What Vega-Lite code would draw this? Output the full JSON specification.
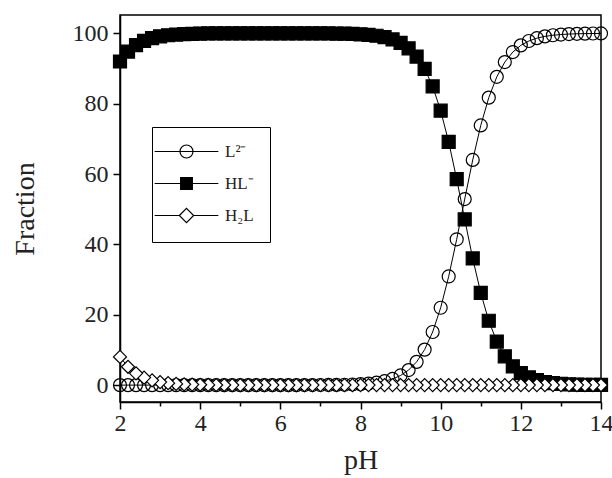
{
  "$schema": "https://vega.github.io/schema/vega-lite/v6.json",
  "width": 481,
  "height": 387,
  "autosize": "none",
  "padding": {"left": 120, "top": 15, "right": 11, "bottom": 76},
  "background": "white",
  "config": {"view": {"stroke": "black", "strokeWidth": 1.5}, "font": "Liberation Serif"},
  "data": {"values": [
    {"pH":14,"s":"L²⁻","v":99.96},{"pH":13.8,"s":"L²⁻","v":99.94},{"pH":13.6,"s":"L²⁻","v":99.91},{"pH":13.4,"s":"L²⁻","v":99.86},{"pH":13.2,"s":"L²⁻","v":99.78},{"pH":13,"s":"L²⁻","v":99.65},{"pH":12.8,"s":"L²⁻","v":99.44},{"pH":12.6,"s":"L²⁻","v":99.12},{"pH":12.4,"s":"L²⁻","v":98.61},{"pH":12.2,"s":"L²⁻","v":97.81},{"pH":12,"s":"L²⁻","v":96.57},{"pH":11.8,"s":"L²⁻","v":94.67},{"pH":11.6,"s":"L²⁻","v":91.82},{"pH":11.4,"s":"L²⁻","v":87.62},{"pH":11.2,"s":"L²⁻","v":81.71},{"pH":11,"s":"L²⁻","v":73.81},{"pH":10.8,"s":"L²⁻","v":64.0},{"pH":10.6,"s":"L²⁻","v":52.88},{"pH":10.4,"s":"L²⁻","v":41.45},{"pH":10.2,"s":"L²⁻","v":30.88},{"pH":10,"s":"L²⁻","v":21.99},{"pH":9.8,"s":"L²⁻","v":15.1},{"pH":9.6,"s":"L²⁻","v":10.09},{"pH":9.4,"s":"L²⁻","v":6.61},{"pH":9.2,"s":"L²⁻","v":4.28},{"pH":9,"s":"L²⁻","v":2.74},{"pH":8.8,"s":"L²⁻","v":1.75},{"pH":8.6,"s":"L²⁻","v":1.11},{"pH":8.4,"s":"L²⁻","v":0.7},{"pH":8.2,"s":"L²⁻","v":0.44},{"pH":8,"s":"L²⁻","v":0.28},{"pH":7.8,"s":"L²⁻","v":0.18},{"pH":7.6,"s":"L²⁻","v":0.11},{"pH":7.4,"s":"L²⁻","v":0.07},{"pH":7.2,"s":"L²⁻","v":0.04},{"pH":7,"s":"L²⁻","v":0.03},{"pH":6.8,"s":"L²⁻","v":0.02},{"pH":6.6,"s":"L²⁻","v":0.01},{"pH":6.4,"s":"L²⁻","v":0},{"pH":6.2,"s":"L²⁻","v":0},{"pH":6,"s":"L²⁻","v":0},{"pH":5.8,"s":"L²⁻","v":0},{"pH":5.6,"s":"L²⁻","v":0},{"pH":5.4,"s":"L²⁻","v":0},{"pH":5.2,"s":"L²⁻","v":0},{"pH":5,"s":"L²⁻","v":0},{"pH":4.8,"s":"L²⁻","v":0},{"pH":4.6,"s":"L²⁻","v":0},{"pH":4.4,"s":"L²⁻","v":0},{"pH":4.2,"s":"L²⁻","v":0},{"pH":4,"s":"L²⁻","v":0},{"pH":3.8,"s":"L²⁻","v":0},{"pH":3.6,"s":"L²⁻","v":0},{"pH":3.4,"s":"L²⁻","v":0},{"pH":3.2,"s":"L²⁻","v":0},{"pH":3,"s":"L²⁻","v":0},{"pH":2.8,"s":"L²⁻","v":0},{"pH":2.6,"s":"L²⁻","v":0},{"pH":2.4,"s":"L²⁻","v":0},{"pH":2.2,"s":"L²⁻","v":0},{"pH":2,"s":"L²⁻","v":0},
    {"pH":14,"s":"HL⁻","v":0.04},{"pH":13.8,"s":"HL⁻","v":0.06},{"pH":13.6,"s":"HL⁻","v":0.09},{"pH":13.4,"s":"HL⁻","v":0.14},{"pH":13.2,"s":"HL⁻","v":0.22},{"pH":13,"s":"HL⁻","v":0.35},{"pH":12.8,"s":"HL⁻","v":0.56},{"pH":12.6,"s":"HL⁻","v":0.88},{"pH":12.4,"s":"HL⁻","v":1.39},{"pH":12.2,"s":"HL⁻","v":2.19},{"pH":12,"s":"HL⁻","v":3.43},{"pH":11.8,"s":"HL⁻","v":5.33},{"pH":11.6,"s":"HL⁻","v":8.18},{"pH":11.4,"s":"HL⁻","v":12.38},{"pH":11.2,"s":"HL⁻","v":18.29},{"pH":11,"s":"HL⁻","v":26.19},{"pH":10.8,"s":"HL⁻","v":36.0},{"pH":10.6,"s":"HL⁻","v":47.12},{"pH":10.4,"s":"HL⁻","v":58.55},{"pH":10.2,"s":"HL⁻","v":69.12},{"pH":10,"s":"HL⁻","v":78.01},{"pH":9.8,"s":"HL⁻","v":84.9},{"pH":9.6,"s":"HL⁻","v":89.91},{"pH":9.4,"s":"HL⁻","v":93.39},{"pH":9.2,"s":"HL⁻","v":95.72},{"pH":9,"s":"HL⁻","v":97.26},{"pH":8.8,"s":"HL⁻","v":98.25},{"pH":8.6,"s":"HL⁻","v":98.89},{"pH":8.4,"s":"HL⁻","v":99.3},{"pH":8.2,"s":"HL⁻","v":99.56},{"pH":8,"s":"HL⁻","v":99.72},{"pH":7.8,"s":"HL⁻","v":99.82},{"pH":7.6,"s":"HL⁻","v":99.89},{"pH":7.4,"s":"HL⁻","v":99.93},{"pH":7.2,"s":"HL⁻","v":99.96},{"pH":7,"s":"HL⁻","v":99.97},{"pH":6.8,"s":"HL⁻","v":99.98},{"pH":6.6,"s":"HL⁻","v":99.99},{"pH":6.4,"s":"HL⁻","v":100},{"pH":6.2,"s":"HL⁻","v":100},{"pH":6,"s":"HL⁻","v":100},{"pH":5.8,"s":"HL⁻","v":100},{"pH":5.6,"s":"HL⁻","v":100},{"pH":5.4,"s":"HL⁻","v":100},{"pH":5.2,"s":"HL⁻","v":100},{"pH":5,"s":"HL⁻","v":100},{"pH":4.8,"s":"HL⁻","v":99.99},{"pH":4.6,"s":"HL⁻","v":99.98},{"pH":4.4,"s":"HL⁻","v":99.97},{"pH":4.2,"s":"HL⁻","v":99.95},{"pH":4,"s":"HL⁻","v":99.91},{"pH":3.8,"s":"HL⁻","v":99.86},{"pH":3.6,"s":"HL⁻","v":99.78},{"pH":3.4,"s":"HL⁻","v":99.65},{"pH":3.2,"s":"HL⁻","v":99.45},{"pH":3,"s":"HL⁻","v":99.14},{"pH":2.8,"s":"HL⁻","v":98.64},{"pH":2.6,"s":"HL⁻","v":97.86},{"pH":2.4,"s":"HL⁻","v":96.65},{"pH":2.2,"s":"HL⁻","v":94.79},{"pH":2,"s":"HL⁻","v":91.99},
    {"pH":14,"s":"H₂L","v":0},{"pH":13.8,"s":"H₂L","v":0},{"pH":13.6,"s":"H₂L","v":0},{"pH":13.4,"s":"H₂L","v":0},{"pH":13.2,"s":"H₂L","v":0},{"pH":13,"s":"H₂L","v":0},{"pH":12.8,"s":"H₂L","v":0},{"pH":12.6,"s":"H₂L","v":0},{"pH":12.4,"s":"H₂L","v":0},{"pH":12.2,"s":"H₂L","v":0},{"pH":12,"s":"H₂L","v":0},{"pH":11.8,"s":"H₂L","v":0},{"pH":11.6,"s":"H₂L","v":0},{"pH":11.4,"s":"H₂L","v":0},{"pH":11.2,"s":"H₂L","v":0},{"pH":11,"s":"H₂L","v":0},{"pH":10.8,"s":"H₂L","v":0},{"pH":10.6,"s":"H₂L","v":0},{"pH":10.4,"s":"H₂L","v":0},{"pH":10.2,"s":"H₂L","v":0},{"pH":10,"s":"H₂L","v":0},{"pH":9.8,"s":"H₂L","v":0},{"pH":9.6,"s":"H₂L","v":0},{"pH":9.4,"s":"H₂L","v":0},{"pH":9.2,"s":"H₂L","v":0},{"pH":9,"s":"H₂L","v":0},{"pH":8.8,"s":"H₂L","v":0},{"pH":8.6,"s":"H₂L","v":0},{"pH":8.4,"s":"H₂L","v":0},{"pH":8.2,"s":"H₂L","v":0},{"pH":8,"s":"H₂L","v":0},{"pH":7.8,"s":"H₂L","v":0},{"pH":7.6,"s":"H₂L","v":0},{"pH":7.4,"s":"H₂L","v":0},{"pH":7.2,"s":"H₂L","v":0},{"pH":7,"s":"H₂L","v":0},{"pH":6.8,"s":"H₂L","v":0},{"pH":6.6,"s":"H₂L","v":0},{"pH":6.4,"s":"H₂L","v":0},{"pH":6.2,"s":"H₂L","v":0},{"pH":6,"s":"H₂L","v":0},{"pH":5.8,"s":"H₂L","v":0},{"pH":5.6,"s":"H₂L","v":0},{"pH":5.4,"s":"H₂L","v":0},{"pH":5.2,"s":"H₂L","v":0},{"pH":5,"s":"H₂L","v":0},{"pH":4.8,"s":"H₂L","v":0.01},{"pH":4.6,"s":"H₂L","v":0.02},{"pH":4.4,"s":"H₂L","v":0.03},{"pH":4.2,"s":"H₂L","v":0.05},{"pH":4,"s":"H₂L","v":0.09},{"pH":3.8,"s":"H₂L","v":0.14},{"pH":3.6,"s":"H₂L","v":0.22},{"pH":3.4,"s":"H₂L","v":0.35},{"pH":3.2,"s":"H₂L","v":0.55},{"pH":3,"s":"H₂L","v":0.86},{"pH":2.8,"s":"H₂L","v":1.36},{"pH":2.6,"s":"H₂L","v":2.14},{"pH":2.4,"s":"H₂L","v":3.35},{"pH":2.2,"s":"H₂L","v":5.21},{"pH":2,"s":"H₂L","v":8.01}
  ]},
  "encoding": {
    "x": {"field": "pH", "type": "quantitative",
      "scale": {"domain": [2, 14], "nice": false, "zero": false},
      "axis": {"values": [2,3,4,5,6,7,8,9,10,11,12,13,14],
        "labelExpr": "datum.value % 2 === 0 ? datum.label : ''",
        "tickSize": {"condition": {"test": "datum.value % 2 === 1", "value": 4}, "value": 7},
        "title": "pH", "grid": false, "domainColor": "black", "domainWidth": 1.5,
        "tickColor": "black", "tickWidth": 1.5, "labelFontSize": 24, "labelFont": "Liberation Serif",
        "labelColor": "#222", "labelPadding": 2, "labelFlush": false, "labelOverlap": false,
        "titleFontSize": 28, "titleFont": "Liberation Serif", "titleFontWeight": "normal",
        "titleColor": "#222", "titlePadding": 11}},
    "y": {"field": "v", "type": "quantitative",
      "scale": {"domain": [-4.8, 105.2], "nice": false, "zero": false},
      "axis": {"values": [0,20,40,60,80,100], "title": "Fraction", "grid": false,
        "domainColor": "black", "domainWidth": 1.5, "tickColor": "black", "tickWidth": 1.5,
        "tickSize": 7, "labelFontSize": 24, "labelFont": "Liberation Serif", "labelColor": "#222",
        "labelPadding": 5, "titleFontSize": 28, "titleFont": "Liberation Serif",
        "titleFontWeight": "normal", "titleColor": "#222", "titlePadding": 33}}
  },
  "layer": [
    {"mark": {"type": "line", "color": "black", "strokeWidth": 1},
     "encoding": {"detail": {"field": "s"}}},
    {"mark": {"type": "point", "stroke": "black", "strokeWidth": 1.2, "opacity": 1, "size": 169},
     "encoding": {
       "shape": {"field": "s", "type": "nominal",
         "scale": {"domain": ["HL⁻", "H₂L", "L²⁻"], "range": ["square", "diamond", "circle"]},
         "legend": null},
       "fill": {"field": "s", "type": "nominal",
         "scale": {"domain": ["L²⁻", "HL⁻", "H₂L"], "range": ["transparent", "black", "white"]},
         "legend": {"title": null, "orient": "none", "legendX": 32, "legendY": 112, "padding": 16,
           "strokeColor": "black", "symbolSize": 169, "symbolStrokeColor": "black", "symbolStrokeWidth": 1.2,
           "symbolType": {"expr": "datum.value === 'L²⁻' ? 'M-4.9,0H4.9M1,0A1,1,0,1,1,-1,0A1,1,0,1,1,1,0Z' : datum.value === 'HL⁻' ? 'M-4.9,0H4.9M-0.9,-0.9H0.9V0.9H-0.9Z' : 'M-4.9,0H-1.1M1.1,0H4.9M-1.1,0L0,-1.1L1.1,0L0,1.1Z'"},
           "labelFontSize": 17, "labelFont": "Liberation Serif", "labelColor": "#222", "rowPadding": 13,
           "symbolOffset": 10, "labelOffset": 30,
           "encode": {"legend": {"strokeWidth": {"value": 1.5}},
             "symbols": {
               "stroke": {"value": "black"},
               "strokeWidth": {"value": 1.2},
               "opacity": {"value": 1}}}}}
     }}
  ]
}
